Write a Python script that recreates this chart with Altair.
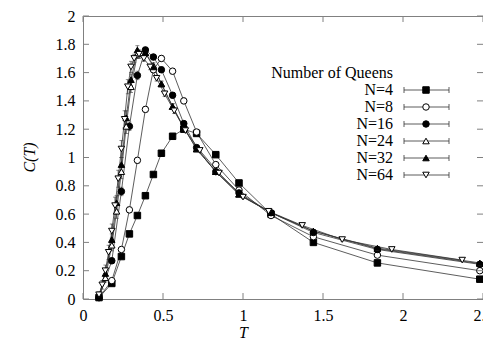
import altair as alt
import pandas as pd

# ---- specific heat C(T) for lattices of N queens ----
SERIES = ["N=4", "N=8", "N=16", "N=24", "N=32", "N=64"]

T_COARSE = [0.10, 0.18, 0.24, 0.29, 0.34, 0.39, 0.44, 0.49, 0.56, 0.63, 0.71,
            0.83, 0.975, 1.175, 1.44, 1.84, 2.48]

C_N4 = [0.01, 0.11, 0.30, 0.46, 0.59, 0.73, 0.88, 1.03, 1.15, 1.20, 1.17,
        1.02, 0.82, 0.60, 0.40, 0.255, 0.14]
E_N4 = [0.005, 0.01, 0.01, 0.01, 0.01, 0.01, 0.01, 0.01, 0.01, 0.01, 0.01,
        0.01, 0.01, 0.01, 0.01, 0.005, 0.005]

C_N8 = [0.01, 0.13, 0.35, 0.63, 0.98, 1.34, 1.62, 1.70, 1.61, 1.40, 1.18,
        0.95, 0.77, 0.59, 0.44, 0.31, 0.20]
E_N8 = [0.005, 0.01, 0.01, 0.02, 0.02, 0.02, 0.02, 0.02, 0.02, 0.02, 0.01,
        0.01, 0.01, 0.01, 0.01, 0.005, 0.005]

C_N16 = [0.01, 0.27, 0.76, 1.22, 1.58, 1.76, 1.71, 1.62, 1.44, 1.24, 1.07,
         0.90, 0.75, 0.61, 0.47, 0.35, 0.245]
E_N16 = [0.005, 0.02, 0.03, 0.03, 0.03, 0.02, 0.02, 0.02, 0.02, 0.01, 0.01,
         0.01, 0.01, 0.01, 0.01, 0.005, 0.005]

T_FINE = [0.10, 0.14, 0.18, 0.21, 0.24, 0.27, 0.30, 0.34, 0.39, 0.44, 0.49,
          0.56, 0.63, 0.71, 0.83, 0.975, 1.175, 1.44, 1.84, 2.48]

C_N24 = [0.02, 0.15, 0.38, 0.62, 0.90, 1.22, 1.50, 1.73, 1.74, 1.65, 1.52,
         1.36, 1.21, 1.06, 0.90, 0.74, 0.61, 0.48, 0.355, 0.25]
E_N24 = [0.01, 0.03, 0.04, 0.05, 0.05, 0.05, 0.04, 0.03, 0.02, 0.02, 0.02,
         0.02, 0.01, 0.01, 0.01, 0.01, 0.01, 0.01, 0.005, 0.005]

C_N32 = [0.02, 0.18, 0.42, 0.68, 0.95, 1.28, 1.55, 1.76, 1.74, 1.64, 1.52,
         1.36, 1.21, 1.06, 0.90, 0.74, 0.61, 0.48, 0.36, 0.255]
E_N32 = [0.01, 0.03, 0.04, 0.05, 0.05, 0.05, 0.04, 0.03, 0.02, 0.02, 0.02,
         0.02, 0.01, 0.01, 0.01, 0.01, 0.01, 0.01, 0.005, 0.005]

T_N64 = [0.10, 0.12, 0.14, 0.16, 0.18, 0.20, 0.22, 0.24, 0.26, 0.28, 0.30,
         0.32, 0.35, 0.38, 0.42, 0.46, 0.51, 0.57, 0.64, 0.73, 0.85, 1.00,
         1.16, 1.37, 1.62, 1.93, 2.37]
C_N64 = [0.03, 0.10, 0.20, 0.33, 0.48, 0.66, 0.85, 1.06, 1.27, 1.50, 1.64,
         1.70, 1.73, 1.70, 1.64, 1.56, 1.45, 1.33, 1.19, 1.05, 0.89, 0.72,
         0.62, 0.52, 0.42, 0.35, 0.275]
E_N64 = [0.02, 0.03, 0.04, 0.05, 0.05, 0.06, 0.06, 0.06, 0.06, 0.05, 0.04,
         0.03, 0.03, 0.02, 0.02, 0.02, 0.02, 0.02, 0.01, 0.01, 0.01, 0.01,
         0.01, 0.01, 0.01, 0.005, 0.005]

SHAPES = ["square", "circle", "circle", "triangle-up", "triangle-up", "triangle-down"]
FILLS = ["black", "white", "black", "white", "black", "white"]

X_TICKS = [0, 0.5, 1, 1.5, 2, 2.5]
Y_TICKS = [0, 0.2, 0.4, 0.6, 0.8, 1, 1.2, 1.4, 1.6, 1.8, 2]

FONT = "Times New Roman, Liberation Serif, serif"
INK = "#333333"
FRAME = "#808080"

# ---- long table of all runs ----
runs = [
    ("N=4", T_COARSE, C_N4, E_N4),
    ("N=8", T_COARSE, C_N8, E_N8),
    ("N=16", T_COARSE, C_N16, E_N16),
    ("N=24", T_FINE, C_N24, E_N24),
    ("N=32", T_FINE, C_N32, E_N32),
    ("N=64", T_N64, C_N64, E_N64),
]
rows = []
for name, ts, cs, es in runs:
    for t, c, e in zip(ts, cs, es):
        rows.append({"series": name, "T": t, "C": c, "lo": c - e, "hi": c + e})
df = pd.DataFrame(rows)

x_scale = alt.Scale(domain=[0, 2.5], nice=False, zero=False)
y_scale = alt.Scale(domain=[0, 2], nice=False, zero=False)
shape_scale = alt.Scale(domain=SERIES, range=SHAPES)
fill_scale = alt.Scale(domain=SERIES, range=FILLS)

x_axis = alt.Axis(values=X_TICKS, format="~g", tickSize=0, grid=False, domain=False,
                  labelFont=FONT, labelFontSize=16, labelColor="black",
                  labelPadding=8, labelFlush=False, labelOverlap=False,
                  title="T", titleFont=FONT, titleFontSize=16, titleFontStyle="italic",
                  titleFontWeight="normal", titleColor="black",
                  titleX=160, titleY=33, titleBaseline="middle")
y_axis = alt.Axis(values=Y_TICKS, format="~g", tickSize=0, grid=False, domain=False,
                  labelFont=FONT, labelFontSize=16, labelColor="black",
                  labelPadding=8, labelOverlap=False,
                  title="C(T)", titleFont=FONT, titleFontSize=16, titleFontStyle="italic",
                  titleFontWeight="normal", titleColor="black",
                  titleX=-54, titleY=141, titleBaseline="middle", titleAngle=270)

base = alt.Chart(df)
X = alt.X("T:Q", scale=x_scale, axis=x_axis)
Y = alt.Y("C:Q", scale=y_scale, axis=None)

lines = base.mark_line(color=INK, strokeWidth=0.8).encode(
    x=X,
    y=alt.Y("C:Q", scale=y_scale, axis=y_axis),
    detail="series:N",
)

err_bars = base.mark_rule(color=INK, strokeWidth=0.8).encode(
    x=X, y=alt.Y("lo:Q", scale=y_scale, axis=None), y2="hi:Q")
err_lo = base.mark_tick(color=INK, orient="horizontal", size=4, thickness=0.8).encode(
    x=X, y=alt.Y("lo:Q", scale=y_scale, axis=None))
err_hi = base.mark_tick(color=INK, orient="horizontal", size=4, thickness=0.8).encode(
    x=X, y=alt.Y("hi:Q", scale=y_scale, axis=None))

points = base.mark_point(size=42, stroke="black", strokeWidth=1, opacity=1,
                         fillOpacity=1).encode(
    x=X, y=Y,
    shape=alt.Shape("series:N", scale=shape_scale, legend=None),
    fill=alt.Fill("series:N", scale=fill_scale, legend=None),
)

# ---- inward tick marks on all four sides ----
xt = alt.Chart(pd.DataFrame({"T": X_TICKS}))
yt = alt.Chart(pd.DataFrame({"v": Y_TICKS}))
YV = alt.Y("v:Q", scale=y_scale, axis=None)
ticks_bottom = xt.mark_rule(color=FRAME).encode(x=X, y=alt.value(283), y2=alt.value(277))
ticks_top = xt.mark_rule(color=FRAME).encode(x=X, y=alt.value(0), y2=alt.value(6))
ticks_left = yt.mark_rule(color=FRAME).encode(y=YV, x=alt.value(0), x2=alt.value(6))
ticks_right = yt.mark_rule(color=FRAME).encode(y=YV, x=alt.value(400), x2=alt.value(394))

# ---- key: label, bar with end caps, marker ----
key_df = pd.DataFrame({"series": SERIES, "row": list(range(len(SERIES)))})
key = alt.Chart(key_df)
ROW = alt.Y("row:Q", scale=alt.Scale(domain=[0, 5], range=[74, 159]), axis=None)

key_title = alt.Chart(pd.DataFrame({"label": ["Number of Queens"], "row": [-1]})).mark_text(
    align="right", baseline="middle", font=FONT, fontSize=16, color="black").encode(
    x=alt.value(310), y=ROW, text="label:N")
key_text = key.mark_text(align="right", baseline="middle", font=FONT, fontSize=16,
                         color="black").encode(x=alt.value(310), y=ROW, text="series:N")
key_bar = key.mark_rule(color=INK, strokeWidth=0.8).encode(
    x=alt.value(321), x2=alt.value(366), y=ROW)
key_cap_l = key.mark_rule(color=INK, strokeWidth=0.8, yOffset=-3, y2Offset=3).encode(
    x=alt.value(321), y=ROW, y2="row:Q")
key_cap_r = key.mark_rule(color=INK, strokeWidth=0.8, yOffset=-3, y2Offset=3).encode(
    x=alt.value(366), y=ROW, y2="row:Q")
key_mark = key.mark_point(size=42, stroke="black", strokeWidth=1, opacity=1,
                          fillOpacity=1).encode(
    x=alt.value(343), y=ROW,
    shape=alt.Shape("series:N", scale=shape_scale, legend=None),
    fill=alt.Fill("series:N", scale=fill_scale, legend=None),
)

chart = alt.layer(
    lines, err_bars, err_lo, err_hi, points,
    ticks_bottom, ticks_top, ticks_left, ticks_right,
    key_title, key_text, key_bar, key_cap_l, key_cap_r, key_mark,
).resolve_scale(y="independent").properties(
    width=400, height=283,
    autosize=alt.AutoSizeParams(type="none"),
    padding={"left": 83, "top": 16, "right": 0, "bottom": 47},
    background="white",
).configure_view(stroke=FRAME, strokeWidth=1)

chart.save("out.html", embed_options={"renderer": "svg", "actions": False})
